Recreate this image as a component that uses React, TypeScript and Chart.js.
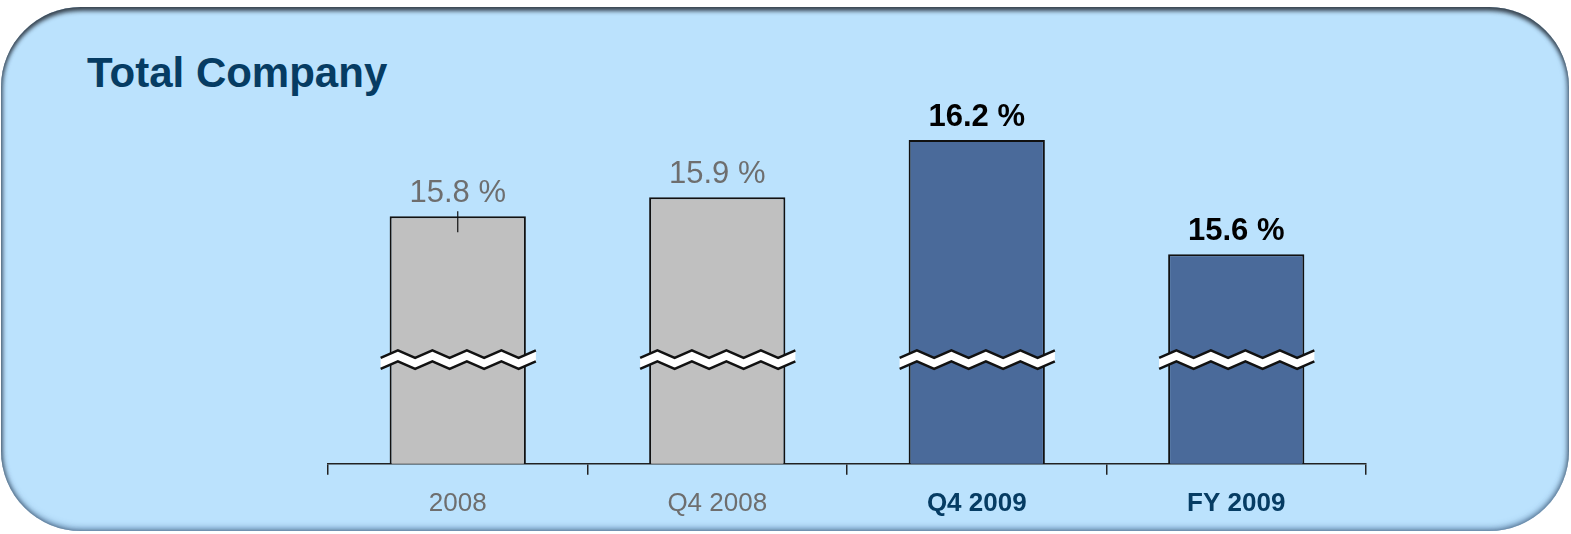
import React, { useEffect, useRef } from "react";
import { Chart, registerables } from "chart.js";

Chart.register(...registerables);

const CATEGORIES = ["2008", "Q4 2008", "Q4 2009", "FY 2009"];
const VALUES = [15.8, 15.9, 16.2, 15.6];
const VALUE_LABELS = ["15.8 %", "15.9 %", "16.2 %", "15.6 %"];
const HIGHLIGHT = [false, false, true, true];
const Y_MIN = 14.5;
const Y_MAX = 16.5;
const BREAK_VALUE = 15.05;
const MARKER_INDEX = 0;

const FONT = "'Liberation Sans', Arial, Helvetica, sans-serif";
const NAVY = "#063C63";
const GRAY_TEXT = "#6E6E6E";
const BAR_GRAY = "#C0C0C0";
const BAR_BLUE = "#4A6A9A";

const overlayPlugin = {
  id: "overlay",
  afterDatasetsDraw(chart: any) {
    const ctx = chart.ctx;
    const meta = chart.getDatasetMeta(0);
    const yScale = chart.scales.y;
    const breakY = yScale.getPixelForValue(BREAK_VALUE);
    meta.data.forEach((bar: any, i: number) => {
      const x = bar.x;
      const w = bar.width;
      const x0 = x - w / 2 - 9;
      const x1 = x + w / 2 + 10;
      const segs = 9;
      const seg = (x1 - x0) / segs;
      const a = 3.8;
      const topC = breakY - 5;
      const botC = breakY + 6;
      const topPts: [number, number][] = [];
      const botPts: [number, number][] = [];
      for (let k = 0; k <= segs; k++) {
        const off = k % 2 === 0 ? a : -a;
        topPts.push([x0 + k * seg, topC + off]);
        botPts.push([x0 + k * seg, botC + off]);
      }
      ctx.save();
      ctx.beginPath();
      topPts.forEach((p, k) => (k === 0 ? ctx.moveTo(p[0], p[1]) : ctx.lineTo(p[0], p[1])));
      for (let k = botPts.length - 1; k >= 0; k--) ctx.lineTo(botPts[k][0], botPts[k][1]);
      ctx.closePath();
      ctx.fillStyle = "#FFFFFF";
      ctx.fill();
      ctx.strokeStyle = "#111";
      ctx.lineWidth = 2.5;
      ctx.lineJoin = "miter";
      ctx.beginPath();
      topPts.forEach((p, k) => (k === 0 ? ctx.moveTo(p[0], p[1]) : ctx.lineTo(p[0], p[1])));
      ctx.stroke();
      ctx.beginPath();
      botPts.forEach((p, k) => (k === 0 ? ctx.moveTo(p[0], p[1]) : ctx.lineTo(p[0], p[1])));
      ctx.stroke();

      if (i === MARKER_INDEX) {
        ctx.beginPath();
        ctx.lineWidth = 1.2;
        ctx.moveTo(x, bar.y - 5);
        ctx.lineTo(x, bar.y + 16);
        ctx.stroke();
      }

      ctx.fillStyle = HIGHLIGHT[i] ? "#000000" : GRAY_TEXT;
      ctx.font = `${HIGHLIGHT[i] ? "bold " : ""}31px ${FONT}`;
      ctx.textAlign = "center";
      ctx.textBaseline = "middle";
      ctx.fillText(VALUE_LABELS[i], x, bar.y - 23);
      ctx.restore();
    });
  },
};

export default function App() {
  const ref = useRef<HTMLCanvasElement>(null);
  useEffect(() => {
    document.body.style.margin = "0";
    const chart = new Chart(ref.current as HTMLCanvasElement, {
      type: "bar",
      data: {
        labels: CATEGORIES,
        datasets: [
          {
            data: VALUES,
            backgroundColor: HIGHLIGHT.map((h) => (h ? BAR_BLUE : BAR_GRAY)),
            borderColor: "#111",
            borderWidth: 2,
            borderSkipped: false,
            categoryPercentage: 1,
            barPercentage: 0.525,
          },
        ],
      },
      options: {
        responsive: false,
        animation: false,
        layout: { padding: { left: 328, right: 205, top: 83, bottom: 2 } },
        plugins: { legend: { display: false }, tooltip: { enabled: false }, title: { display: false } },
        scales: {
          x: {
            offset: true,
            grid: {
              display: true,
              offset: true,
              drawOnChartArea: false,
              drawTicks: true,
              tickLength: 11,
              color: "#222",
              lineWidth: 1.5,
            },
            border: { display: true, color: "#222", width: 1.5 },
            ticks: {
              padding: 13,
              color: (c: any) => (HIGHLIGHT[c.index] ? NAVY : GRAY_TEXT),
              font: (c: any) => ({ family: FONT, size: 26, weight: HIGHLIGHT[c.index] ? "bold" : "normal" }),
            },
          },
          y: { display: false, min: Y_MIN, max: Y_MAX },
        },
      },
      plugins: [overlayPlugin],
    });
    return () => chart.destroy();
  }, []);

  return (
    <div style={{ position: "relative", width: 1571, height: 534, background: "#FFFFFF", overflow: "hidden" }}>
      <div
        style={{
          position: "absolute",
          left: 1,
          top: 7,
          width: 1568,
          height: 524,
          borderRadius: 80,
          background: "#BBE2FD",
          boxShadow:
            "inset 0 5px 4px -1px rgba(50,60,70,0.9), inset 3px 0 4px -1px rgba(70,90,110,0.7), inset -3px 0 5px -1px rgba(80,105,130,0.7), inset 0 -4px 6px -1px rgba(100,140,180,0.8)",
        }}
      />
      <div
        style={{
          position: "absolute",
          left: 87,
          top: 52,
          fontFamily: FONT,
          fontWeight: "bold",
          fontSize: 42,
          lineHeight: "42px",
          color: NAVY,
          whiteSpace: "nowrap",
        }}
      >
        Total Company
      </div>
      <canvas ref={ref} width={1571} height={534} style={{ position: "absolute", left: 0, top: 0 }} />
    </div>
  );
}
